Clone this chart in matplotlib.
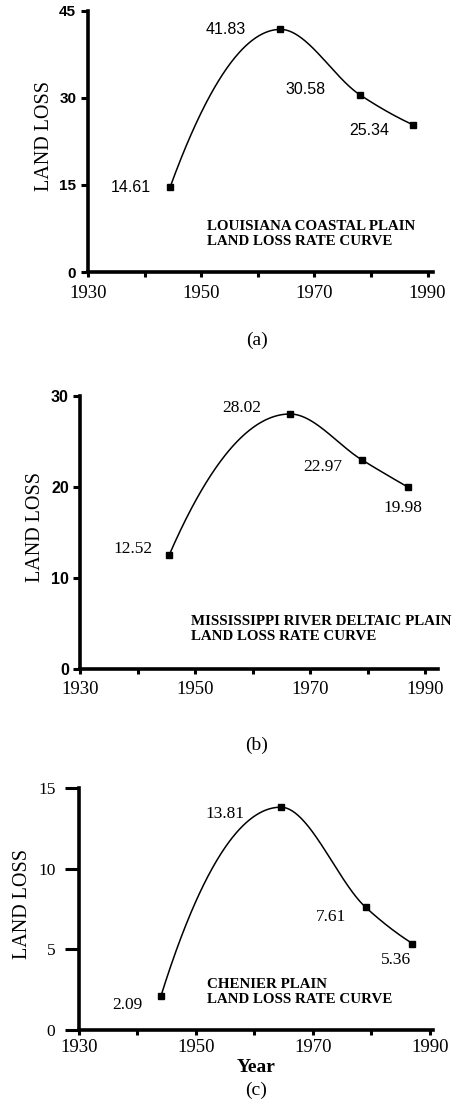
import numpy as np
import matplotlib.pyplot as plt

# land loss rate values
years_a = [1944.5, 1964, 1978, 1987.5]
loss_a = [14.61, 41.83, 30.58, 25.34]
years_b = [1945.5, 1966.5, 1979, 1987]
loss_b = [12.52, 28.02, 22.97, 19.98]
years_c = [1944, 1964.5, 1979, 1987]
loss_c = [2.09, 13.81, 7.61, 5.36]

titles = ['LOUISIANA COASTAL PLAIN\nLAND LOSS RATE CURVE',
          'MISSISSIPPI RIVER DELTAIC PLAIN\nLAND LOSS RATE CURVE',
          'CHENIER PLAIN\nLAND LOSS RATE CURVE']
xticks = [1930, 1940, 1950, 1960, 1970, 1980, 1990]
xlabels = ['1930', '', '1950', '', '1970', '', '1990']

serif = 'Liberation Serif'
sans = 'Liberation Sans'


def pchip(x, y, xs):
    # monotone cubic for the smooth line through the points
    x = np.asarray(x, float)
    y = np.asarray(y, float)
    h = np.diff(x)
    d = np.diff(y) / h
    n = len(x)
    m = np.zeros(n)
    for k in range(1, n - 1):
        if d[k - 1] * d[k] > 0:
            w1 = 2 * h[k] + h[k - 1]
            w2 = h[k] + 2 * h[k - 1]
            m[k] = (w1 + w2) / (w1 / d[k - 1] + w2 / d[k])

    def end(h0, h1, d0, d1):
        s = ((2 * h0 + h1) * d0 - h0 * d1) / (h0 + h1)
        if np.sign(s) != np.sign(d0):
            return 0.0
        if np.sign(d0) != np.sign(d1) and abs(s) > abs(3 * d0):
            return 3 * d0
        return s

    m[0] = end(h[0], h[1], d[0], d[1])
    m[-1] = end(h[-1], h[-2], d[-1], d[-2])
    i = np.clip(np.searchsorted(x, xs) - 1, 0, n - 2)
    t = (xs - x[i]) / h[i]
    h00 = 2 * t**3 - 3 * t**2 + 1
    h10 = t**3 - 2 * t**2 + t
    h01 = -2 * t**3 + 3 * t**2
    h11 = t**3 - t**2
    return h00 * y[i] + h10 * h[i] * m[i] + h01 * y[i + 1] + h11 * h[i] * m[i + 1]


fig = plt.figure(figsize=(4.56, 10.99), dpi=100)

panels = [
    dict(x=years_a, y=loss_a, rect=[0.193, 0.7525, 0.757, 0.2375], xmax=1991,
         ymax=45, yticks=[0, 15, 30, 45], yfont=sans, yfs=11, yw='bold',
         ytl=5, ypad=3.5, xpad=6, nfont=sans, nfs=11.5,
         offs=[(-28, 0), (-39, 0), (-39, 4), (-32, -4)],
         tpos=(0.345, 0.145), lab=-0.098),
    dict(x=years_b, y=loss_b, rect=[0.1754, 0.3913, 0.785, 0.2484], xmax=1992.2,
         ymax=30, yticks=[0, 10, 20, 30], yfont=sans, yfs=11.5, yw='bold',
         ytl=5, ypad=3, xpad=5, nfont=serif, nfs=12.5,
         offs=[(-26, 4), (-35, 4), (-28, -5), (-4, -15)],
         tpos=(0.31, 0.148), lab=-0.098),
    dict(x=years_c, y=loss_c, rect=[0.1732, 0.0628, 0.776, 0.2202], xmax=1990.5,
         ymax=15, yticks=[0, 5, 10, 15], yfont=serif, yfs=12.5, yw='normal',
         ytl=10, ypad=7, xpad=3, nfont=serif, nfs=12.5,
         offs=[(-24, -6), (-40, -5), (-25, -7), (-12, -12)],
         tpos=(0.362, 0.155), lab=-0.133),
]

for p, title in zip(panels, titles):
    ax = fig.add_axes(p['rect'])
    xs = np.linspace(p['x'][0], p['x'][-1], 300)
    ax.plot(xs, pchip(p['x'], p['y'], xs), color='black', lw=1.1)
    ax.plot(p['x'], p['y'], 's', color='black', ms=4.5)
    for xv, yv, off in zip(p['x'], p['y'], p['offs']):
        ax.annotate(f'{yv:.2f}', (xv, yv), xytext=off, textcoords='offset points',
                    ha='center', va='center', fontsize=p['nfs'], family=p['nfont'])
    ax.text(p['tpos'][0], p['tpos'][1], title, transform=ax.transAxes,
            ha='left', va='center', fontsize=10.8, family=serif, weight='bold',
            linespacing=1.2, clip_on=False)

    ax.set_xlim(1930, p['xmax'])
    ax.set_ylim(0, p['ymax'])
    ax.set_xticks(xticks)
    ax.set_xticklabels(xlabels, family=serif, fontsize=13.5)
    ax.set_yticks(p['yticks'])
    ax.set_yticklabels([str(v) for v in p['yticks']], family=p['yfont'],
                       fontsize=p['yfs'], weight=p['yw'])
    ax.tick_params(axis='x', length=3.5, width=2.2, pad=p['xpad'])
    ax.tick_params(axis='y', length=p['ytl'], width=2.2, pad=p['ypad'])
    for s in ['top', 'right']:
        ax.spines[s].set_visible(False)
    for s in ['left', 'bottom']:
        ax.spines[s].set_linewidth(2.6)
    ax.set_ylabel('LAND LOSS', family=serif, fontsize=14.5)
    ax.yaxis.set_label_coords(p['lab'], 0.52)

fig.text(0.5636, 0.6906, '(a)', ha='center', va='center', family=serif, fontsize=14)
fig.text(0.5636, 0.3221, '(b)', ha='center', va='center', family=serif, fontsize=14)
fig.text(0.5614, 0.0291, 'Year', ha='center', va='center', family=serif,
         fontsize=14, weight='bold')
fig.text(0.5614, 0.0082, '(c)', ha='center', va='center', family=serif, fontsize=14)

plt.savefig('out.png', dpi=100)
